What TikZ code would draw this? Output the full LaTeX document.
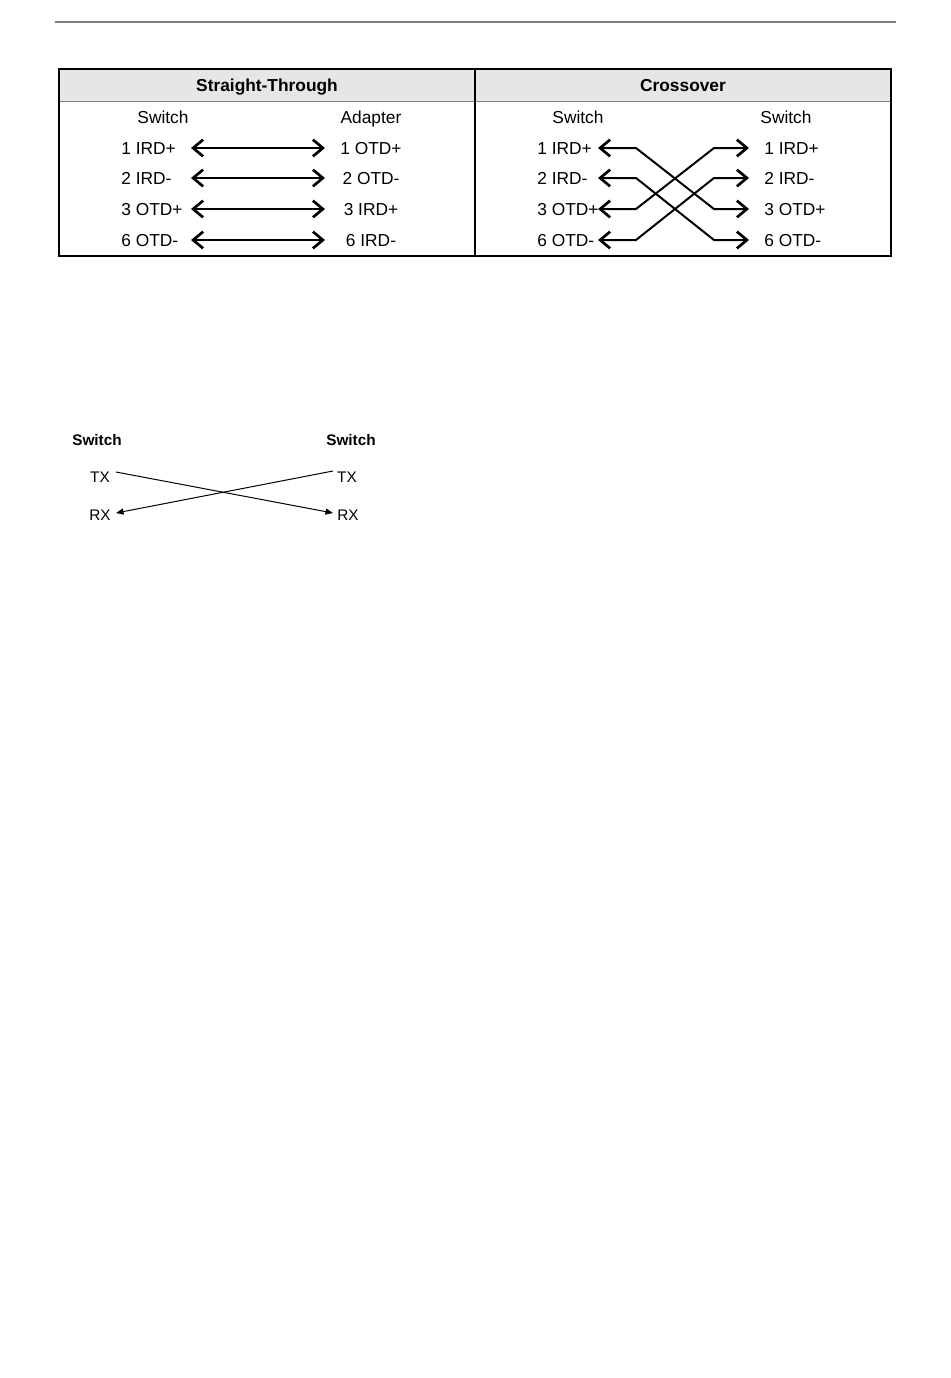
\documentclass[tikz,border=0pt]{standalone}
\usepackage{fontspec}
\setmainfont{Liberation Sans}
\usetikzlibrary{arrows.meta, positioning}
\definecolor{rulegray}{HTML}{808080}
\definecolor{headgray}{HTML}{e6e6e6}
\tikzset{
  pinlabel/.style={inner sep=0pt, text height=7.45pt, text depth=0pt},
  headlabel/.style={pinlabel, font=\fontsize{10.4}{12}\selectfont\bfseries},
  duplex/.style={line width=1.6pt, {Straight Barb[length=6pt,width=10pt]}-{Straight Barb[length=6pt,width=10pt]}},
  xwire/.style={line width=1.2pt, {Straight Barb[length=6pt,width=10pt,line width=1.6pt]}-{Straight Barb[length=6pt,width=10pt,line width=1.6pt]}},
  txline/.style={line width=0.6pt, -{Triangle[length=4.5pt,width=3.6pt]}},
  smalltext/.style={font=\fontsize{9.2}{10}\selectfont, inner sep=0pt}
}
\begin{document}
\begin{tikzpicture}[x=0.6pt, y=-0.6pt, font=\fontsize{10.4}{12}\selectfont]
\useasboundingbox (0,0) rectangle (950,1378);
% page rule
\draw[rulegray, line width=0.9pt] (55,22) -- (896,22);
% cable table
\fill[headgray] (59,69) rectangle (891,101);
\draw[line width=0.6pt, rulegray] (59,101) -- (891,101);
\draw[line width=0.9pt] (59,69) rectangle (891,256);
\draw[line width=0.9pt] (475,69) -- (475,256);
\node[headlabel] (sthead) at (267,85) {Straight-Through};
\node[headlabel] (cohead) at (683,85) {Crossover};
\node[pinlabel] (stsw) at (163,117) {Switch};
\node[pinlabel] (stad) at (371,117) {Adapter};
\node[pinlabel] (cosw) at (578,117) {Switch};
\node[pinlabel] (cosw2) at (786,117) {Switch};
% straight-through rows
\foreach \r/\sl/\al/\yy in {1/1 IRD+/1 OTD+/148, 2/2 IRD-/2 OTD-/178, 3/3 OTD+/3 IRD+/209, 4/6 OTD-/6 IRD-/240}{
  \node[pinlabel, anchor=west] (sw\r) at (121,\yy) {\sl};
  \node[pinlabel] (ad\r) at (371,\yy) {\al};
  \coordinate (sa\r) at (191,\yy);
  \coordinate (sb\r) at (325,\yy);
  \draw[duplex] (sa\r) -- (sb\r);
}
% crossover rows
\foreach \r/\pl/\yy in {1/1 IRD+/148, 2/2 IRD-/178, 3/3 OTD+/209, 4/6 OTD-/240}{
  \node[pinlabel, anchor=west] (cl\r) at (537,\yy) {\pl};
  \node[pinlabel, anchor=west] (cr\r) at (764,\yy) {\pl};
  \coordinate (xl\r) at (598,\yy);
  \coordinate (xa\r) at (636,\yy);
  \coordinate (xb\r) at (714,\yy);
  \coordinate (xr\r) at (749,\yy);
}
\draw[xwire] (xl1) -- (xa1) -- (xb3) -- (xr3);
\draw[xwire] (xl2) -- (xa2) -- (xb4) -- (xr4);
\draw[xwire] (xl3) -- (xa3) -- (xb1) -- (xr1);
\draw[xwire] (xl4) -- (xa4) -- (xb2) -- (xr2);
% TX/RX sketch
\node[smalltext, font=\fontsize{9.2}{10}\selectfont\bfseries] (lsw) at (97,440) {Switch};
\node[smalltext, font=\fontsize{9.2}{10}\selectfont\bfseries] (rsw) at (351,440) {Switch};
\node[smalltext] (ltx) at (100,477) {TX};
\node[smalltext] (lrx) at (100,515) {RX};
\node[smalltext] (rtx) at (347,477) {TX};
\node[smalltext] (rrx) at (348,515) {RX};
\coordinate (ltxend) at (116,472);
\coordinate (lrxend) at (116,513);
\coordinate (rtxend) at (333,471);
\coordinate (rrxend) at (333,513);
\draw[txline] (ltxend) -- (rrxend);
\draw[txline] (rtxend) -- (lrxend);
\end{tikzpicture}
\end{document}
